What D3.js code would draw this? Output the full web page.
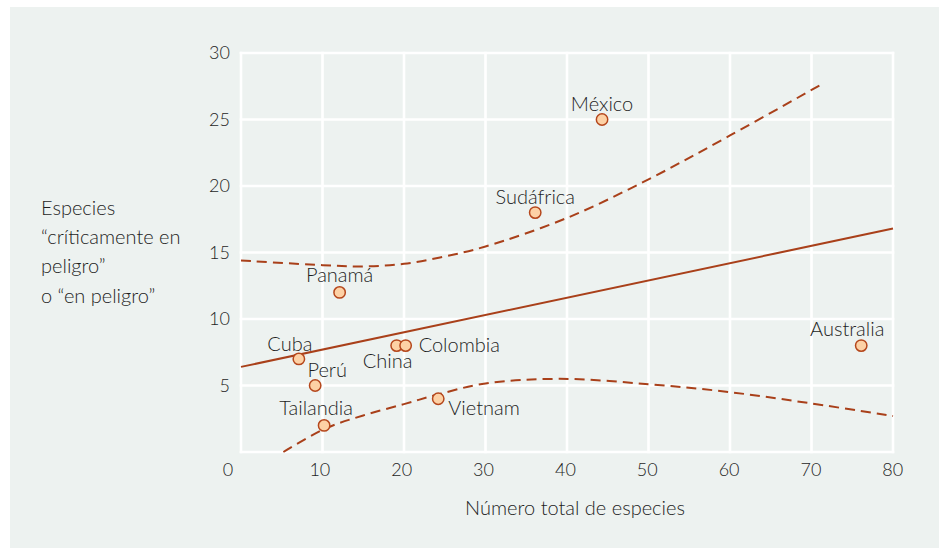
<!DOCTYPE html>
<html>
<head>
<meta charset="utf-8">
<script src="https://cdn.jsdelivr.net/npm/d3@7"></script>
<style>
  body { margin: 0; background: #fff; }
  text { font-family: Lato, "Open Sans", sans-serif; font-weight: 300; fill: #1e1e1e; }
</style>
</head>
<body>
<div id="chart"></div>
<script>
// Data
const countries = ["México", "Sudáfrica", "Panamá", "Cuba", "Perú", "China", "Colombia", "Tailandia", "Vietnam", "Australia"];
const totalSpecies = [44.3, 36.1, 12.1, 7.1, 9.1, 19.1, 20.2, 10.2, 24.2, 76.1];
const endangered = [25, 18, 12, 7, 5, 8, 8, 2, 4, 8];

// fitted line and the two dashed bands
const fitX = [0, 80];
const fitY = [6.4, 16.8];
const upperX = [0, 10, 15, 20, 25, 30, 40, 50, 60, 71.4];
const upperY = [14.4, 14.05, 13.95, 14.15, 14.7, 15.45, 17.6, 20.5, 23.8, 27.7];
const lowerX = [5.2, 10.3, 15, 20, 24, 30, 39, 50, 60, 70, 80];
const lowerY = [0, 1.75, 2.75, 3.6, 4.3, 5.15, 5.5, 5.1, 4.5, 3.65, 2.7];

const xTicks = [10, 20, 30, 40, 50, 60, 70, 80];
const yTicks = [5, 10, 15, 20, 25, 30];
const yTitle = ["Especies", "“críticamente en", "peligro”", "o “en peligro”"];
const xTitle = "Número total de especies";

const width = 939, height = 548;
const margin = { top: 53, right: 46, bottom: 96, left: 241 };

const svg = d3.select("#chart").append("svg")
    .attr("width", width)
    .attr("height", height);

// panel background
svg.append("rect")
    .attr("x", 10).attr("y", 7)
    .attr("width", width - 10).attr("height", height - 7)
    .attr("fill", "#edf2f0");

const x = d3.scaleLinear().domain([0, 80]).range([margin.left, width - margin.right]);
const y = d3.scaleLinear().domain([0, 30]).range([height - margin.bottom, margin.top]);

// grid
const grid = svg.append("g").attr("stroke", "#fff").attr("stroke-width", 2.6);
grid.selectAll(".gx").data([0].concat(xTicks)).join("line")
    .attr("x1", d => x(d)).attr("x2", d => x(d))
    .attr("y1", y(30) - 1.3).attr("y2", y(0) + 1.3);
grid.selectAll(".gy").data([0].concat(yTicks)).join("line")
    .attr("x1", x(0) - 1.3).attr("x2", x(80) + 1.3)
    .attr("y1", d => y(d)).attr("y2", d => y(d));

// tick labels
const tickSize = "18px";
svg.append("g").selectAll("text").data(xTicks).join("text")
    .attr("x", d => x(d) - 3 + d * 0.035)
    .attr("y", y(0) + 24)
    .attr("text-anchor", "middle")
    .style("font-size", tickSize)
    .text(d => d);
svg.append("text")
    .attr("x", x(0) - 13).attr("y", y(0) + 24)
    .attr("text-anchor", "middle")
    .style("font-size", tickSize)
    .text("0");
svg.append("g").selectAll("text").data(yTicks).join("text")
    .attr("x", x(0) - 11)
    .attr("y", d => y(d))
    .attr("dy", "0.36em")
    .attr("text-anchor", "end")
    .style("font-size", tickSize)
    .text(d => d);

// axis titles
const textSize = "20px";
svg.append("text")
    .attr("x", 575).attr("y", 515)
    .attr("text-anchor", "middle")
    .style("font-size", textSize)
    .text(xTitle);
svg.append("g").selectAll("text").data(yTitle).join("text")
    .attr("x", 41)
    .attr("y", (d, i) => 215 + i * 29.2)
    .style("font-size", textSize)
    .text(d => d);

// lines
const lineColor = "#a9401a";
const toPts = (xs, ys) => xs.map((v, i) => [v, ys[i]]);
const line = d3.line().x(d => x(d[0])).y(d => y(d[1])).curve(d3.curveCatmullRom.alpha(0.5));

svg.append("path")
    .attr("d", line(toPts(fitX, fitY)))
    .attr("fill", "none").attr("stroke", lineColor).attr("stroke-width", 2);
[toPts(upperX, upperY), toPts(lowerX, lowerY)].forEach(pts => {
    svg.append("path")
        .attr("d", line(pts))
        .attr("fill", "none").attr("stroke", lineColor)
        .attr("stroke-width", 2).attr("stroke-dasharray", "10,6");
});

// labels: offset from the point, anchor
const labelPos = {
    "México": [0, -9, "middle"],
    "Sudáfrica": [0, -9, "middle"],
    "Panamá": [0, -10, "middle"],
    "Cuba": [-9, -8, "middle"],
    "Perú": [12, -9, "middle"],
    "China": [-9, 22, "middle"],
    "Colombia": [13, 6, "start"],
    "Tailandia": [-8, -10, "middle"],
    "Vietnam": [10, 16, "start"],
    "Australia": [-14, -10, "middle"]
};

const pts = countries.map((c, i) => ({ c, tx: totalSpecies[i], en: endangered[i] }));

svg.append("g").selectAll("circle").data(pts).join("circle")
    .attr("cx", d => x(d.tx))
    .attr("cy", d => y(d.en))
    .attr("r", 5.7)
    .attr("fill", "#fdd1a5")
    .attr("stroke", "#b5471c")
    .attr("stroke-width", 1.5);

svg.append("g").selectAll("text").data(pts).join("text")
    .attr("x", d => x(d.tx) + labelPos[d.c][0])
    .attr("y", d => y(d.en) + labelPos[d.c][1])
    .attr("text-anchor", d => labelPos[d.c][2])
    .style("font-size", textSize)
    .text(d => d.c);
</script>
</body>
</html>
